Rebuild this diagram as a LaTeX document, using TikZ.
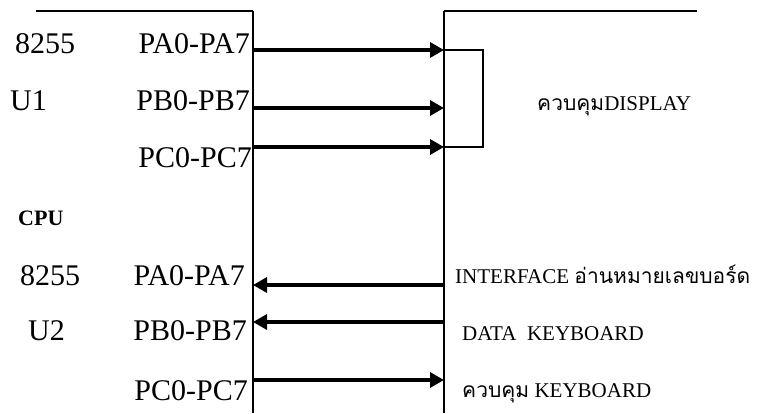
\documentclass[tikz,border=0pt]{standalone}
\usepackage{fontspec}
\setmainfont{Liberation Serif}
\newfontfamily\thaifont[Script=Thai]{Loma}
\usetikzlibrary{arrows.meta}
\begin{document}
\begin{tikzpicture}[x=1pt,y=-1pt,
  bus/.style={line width=2.2pt},
  edge/.style={line width=1.4pt},
  sig/.style={line width=3.2pt,-{Triangle[length=14pt,width=15pt]}},
  loopback/.style={line width=2.2pt},
  port/.style={font=\fontsize{30}{30}\selectfont, anchor=base east, inner sep=0pt},
  chip/.style={font=\fontsize{30}{30}\selectfont, anchor=base west, inner sep=0pt},
  note/.style={font=\fontsize{21}{21}\selectfont, anchor=base west, inner sep=0pt}]
\useasboundingbox (0,0) rectangle (757,413);

% CPU side and peripheral side buses
\coordinate (lend) at (36,11);
\coordinate (ltop) at (253,11);
\coordinate (lbot) at (253,413);
\coordinate (rtop) at (444,11);
\coordinate (rend) at (697,11);
\coordinate (rbot) at (444,413);
\draw[edge] (lend) -- (ltop);
\draw[bus] (ltop) -- (lbot);
\draw[edge] (rtop) -- (rend);
\draw[bus] (rtop) -- (rbot);

% port taps on both buses
\coordinate (a1) at (253,50);  \coordinate (a2) at (444,50);
\coordinate (b1) at (253,108); \coordinate (b2) at (444,108);
\coordinate (c1) at (253,147); \coordinate (c2) at (444,147);
\coordinate (d1) at (253,285); \coordinate (d2) at (444,285);
\coordinate (e1) at (253,322); \coordinate (e2) at (444,322);
\coordinate (f1) at (253,380); \coordinate (f2) at (444,380);
\coordinate (k1) at (483,50);  \coordinate (k2) at (483,147);

% U1: all ports drive the display
\draw[sig] (a1) -- (a2);
\draw[sig] (b1) -- (b2);
\draw[sig] (c1) -- (c2);
\draw[loopback] (a2) -- (k1) -- (k2) -- (c2);

% U2: keyboard interface
\draw[sig] (d2) -- (d1);
\draw[sig] (e2) -- (e1);
\draw[sig] (f1) -- (f2);

% labels
\node[chip] (u1chip) at (15,53) {8255};
\node[port] (pa1) at (250,53) {PA0-PA7};
\node[chip] (u1) at (10,110) {U1};
\node[port] (pb1) at (250,110) {PB0-PB7};
\node[port] (pc1) at (252,167) {PC0-PC7};
\node[chip, font=\bfseries\fontsize{22}{22}\selectfont] (cpu) at (18,225) {CPU};
\node[chip] (u2chip) at (20,285) {8255};
\node[port] (pa2) at (245,285) {PA0-PA7};
\node[chip] (u2) at (28,340) {U2};
\node[port] (pb2) at (247,340) {PB0-PB7};
\node[port] (pc2) at (248,400) {PC0-PC7};

\node[note] (disp) at (537,110) {{\thaifont ควบคุม}DISPLAY};
\node[note] (intf) at (455,283) {INTERFACE {\thaifont อ่านหมายเลขบอร์ด}};
\node[note] (data) at (462,340) {DATA\ \ KEYBOARD};
\node[note] (kctl) at (462,397) {{\thaifont ควบคุม} KEYBOARD};
\end{tikzpicture}
\end{document}
